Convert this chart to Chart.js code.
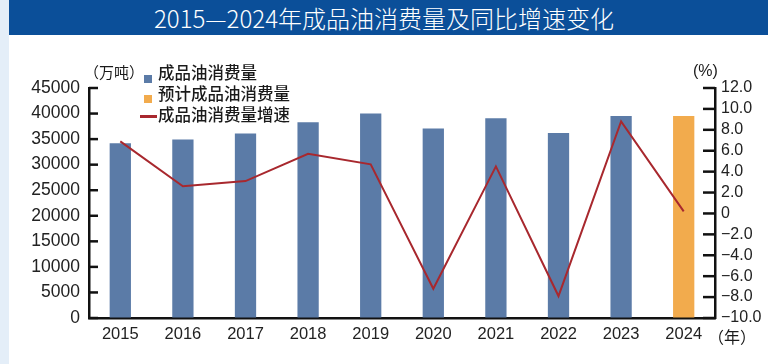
<!DOCTYPE html>
<html><head><meta charset="utf-8">
<script src="https://cdn.jsdelivr.net/npm/chart.js@4"></script>
<style>
html,body{margin:0;padding:0;background:#fff;}
#wrap{position:relative;width:768px;height:364px;overflow:hidden;background:#fff;font-family:"Liberation Sans","Noto Sans CJK SC",sans-serif;}
#strip{position:absolute;left:0;top:0;width:9px;height:364px;background:#e4eef8;}
#banner{position:absolute;left:9px;top:0;width:759px;height:35px;background:#0b4f99;}
#title{position:absolute;left:0;top:0;width:768px;height:35px;line-height:35px;text-align:center;color:#fff;font-family:"Noto Sans CJK SC","Liberation Sans",sans-serif;font-size:24px;font-weight:300;}
canvas{position:absolute;left:0;top:0;}
.lbl{position:absolute;color:#1a1a1a;font-family:"Noto Sans CJK SC",sans-serif;white-space:nowrap;}
.lg{position:absolute;color:#1a1a1a;font-family:"Noto Sans CJK SC",sans-serif;font-size:16.5px;font-weight:500;white-space:nowrap;line-height:20px;}
.sw{position:absolute;width:8px;height:8px;}
</style></head>
<body>
<div id="wrap">
<div id="strip"></div>
<div id="banner"></div>
<div id="title">2015—2024年成品油消费量及同比增速变化</div>
<canvas id="c" width="768" height="364"></canvas>
<div class="lbl" style="left:84px;top:61px;font-size:15px;">（万吨）</div>
<div class="lbl" style="left:693px;top:62px;font-size:16px;font-family:'Liberation Sans',sans-serif;">(%)</div>
<div class="lbl" style="left:708px;top:324px;font-size:16px;">（年）</div>
<div class="sw" style="left:144px;top:75px;background:#5b7ba7;"></div>
<div class="lg" style="left:158px;top:62px;">成品油消费量</div>
<div class="sw" style="left:144px;top:95px;background:#f2ab4d;"></div>
<div class="lg" style="left:158px;top:83px;">预计成品油消费量</div>
<div style="position:absolute;left:140px;top:115px;width:17px;height:3px;background:#a8282e;"></div>
<div class="lg" style="left:158px;top:104px;">成品油消费量增速</div>
</div>
<script>
const years = ['2015','2016','2017','2018','2019','2020','2021','2022','2023','2024'];
const consumption = [34200, 34900, 36100, 38300, 40000, 37100, 39100, 36200, 39500, null];
const forecast = [null, null, null, null, null, null, null, null, null, 39500];
const growth = [6.9, 2.6, 3.1, 5.7, 4.7, -7.2, 4.5, -7.9, 8.8, 0.2];
const leftTicks = [0, 45000, 5000];
const rightTicks = [-10, 12, 2];

const tickFont = {family:'"Liberation Sans", Arial, sans-serif', size:17.5};
const inwardTicks = {
  id:'inwardTicks',
  afterDraw(chart){
    const ctx = chart.ctx, a = chart.chartArea;
    ctx.save();
    ctx.strokeStyle = '#111'; ctx.lineWidth = 2.5;
    const yl = chart.scales.y, yr = chart.scales.y1;
    yl.ticks.forEach(t => { const p = yl.getPixelForValue(t.value); ctx.beginPath(); ctx.moveTo(a.left, p); ctx.lineTo(a.left+9, p); ctx.stroke(); });
    yr.ticks.forEach(t => { const p = yr.getPixelForValue(t.value); ctx.beginPath(); ctx.moveTo(a.right-12, p); ctx.lineTo(a.right, p); ctx.stroke(); });
    ctx.restore();
  }
};

new Chart(document.getElementById('c'), {
  data: {
    labels: years,
    datasets: [
      {type:'line', label:'成品油消费量增速', data: growth, yAxisID:'y1', borderColor:'#a8282e', borderWidth:2, pointRadius:0, tension:0, order:0},
      {type:'bar', label:'成品油消费量', data: consumption, yAxisID:'y', backgroundColor:'#5b7ba7', grouped:false, barPercentage:0.34, categoryPercentage:1, order:1},
      {type:'bar', label:'预计成品油消费量', data: forecast, yAxisID:'y', backgroundColor:'#f2ab4d', grouped:false, barPercentage:0.34, categoryPercentage:1, order:1}
    ]
  },
  options: {
    responsive:false, animation:false, devicePixelRatio:1,
    layout:{padding:{top:88, left:0, right:0, bottom:0}},
    plugins:{legend:{display:false}, tooltip:{enabled:false}},
    scales:{
      x:{
        grid:{display:false, drawTicks:false},
        border:{display:true, color:'#111', width:2.5},
        ticks:{color:'#222', font:{family:'"Liberation Sans", Arial, sans-serif', size:16.5}, padding:7, maxRotation:0, autoSkip:false},
        afterFit(s){ s.height = 46; }
      },
      y:{
        position:'left', min:leftTicks[0], max:leftTicks[1],
        grid:{drawOnChartArea:false, drawTicks:false},
        border:{display:true, color:'#111', width:2.5},
        ticks:{stepSize:leftTicks[2], color:'#222', font:tickFont, padding:9, autoSkip:false,
          callback(v){ return String(v); }},
        afterFit(s){ s.width = 89; }
      },
      y1:{
        position:'right', min:rightTicks[0], max:rightTicks[1],
        grid:{drawOnChartArea:false, drawTicks:false},
        border:{display:true, color:'#111', width:2.5},
        ticks:{stepSize:rightTicks[2], color:'#222', font:{family:'"Liberation Sans", Arial, sans-serif', size:16}, padding:6, autoSkip:false,
          callback(v){ return v === 0 ? '0' : (v < 0 ? '\u2212' + Math.abs(v).toFixed(1) : v.toFixed(1)); }},
        afterFit(s){ s.width = 53; }
      }
    }
  },
  plugins:[inwardTicks]
});
</script>
</body></html>
